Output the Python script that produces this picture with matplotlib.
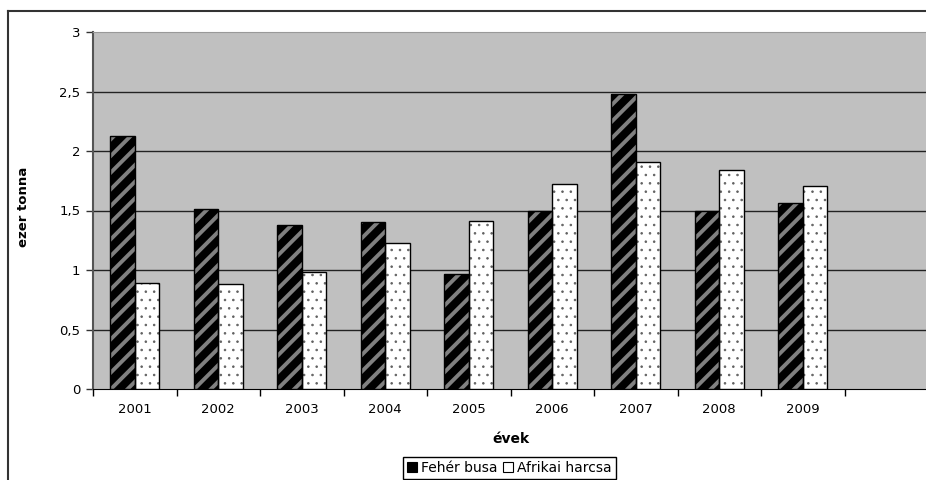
import matplotlib
matplotlib.use("Agg")
import matplotlib.pyplot as plt
from matplotlib.lines import Line2D
from matplotlib.patches import Patch
import numpy as np

# Yearly catch, thousand tonnes
years = ["2001", "2002", "2003", "2004", "2005", "2006", "2007", "2008", "2009"]
feher_busa = [2.13, 1.51, 1.375, 1.40, 0.97, 1.50, 2.48, 1.50, 1.565]
afrikai_harcsa = [0.89, 0.88, 0.98, 1.23, 1.41, 1.72, 1.91, 1.84, 1.71]
y_ticks = [0, 0.5, 1, 1.5, 2, 2.5, 3]
y_tick_labels = ["0", "0,5", "1", "1,5", "2", "2,5", "3"]

plt.rcParams['font.family'] = ['DejaVu Sans']

W, H = 926, 480
fig = plt.figure(figsize=(W / 100, H / 100), dpi=100)
ax = fig.add_axes([93 / W, (H - 389) / H, 835 / W, 357 / H])
ax.set_facecolor('#c0c0c0')

x = np.arange(len(years))
bw = 0.293

# striped dark bars and dotted white bars
b1 = ax.bar(x - bw / 2, feher_busa, bw, color='black', edgecolor='#808080',
            hatch='//', linewidth=0, zorder=3)
b2 = ax.bar(x + bw / 2, afrikai_harcsa, bw, color='white', edgecolor='#606060',
            hatch='..', linewidth=0, zorder=3)
for p in b1.patches:
    p.set_hatch_linewidth(2.8)
for p in b2.patches:
    p.set_hatch_linewidth(0.6)
ax.bar(x - bw / 2, feher_busa, bw, fill=False, edgecolor='black', linewidth=1, zorder=4)
ax.bar(x + bw / 2, afrikai_harcsa, bw, fill=False, edgecolor='black', linewidth=1, zorder=4)

for v in y_ticks[1:-1]:
    ax.axhline(v, color='#222222', linewidth=1.0, zorder=1)

ax.set_xlim(-0.5, 9.5)
ax.set_ylim(0, 3)
ax.set_yticks(y_ticks)
ax.set_yticklabels(y_tick_labels, fontsize=9.5)
ax.tick_params(axis='y', direction='out', length=5, width=1, pad=4, color='#333333')

# category ticks between groups, labels at the centres
ax.set_xticks(np.arange(-0.5, 10, 1))
ax.set_xticklabels([])
ax.set_xticks(x, minor=True)
ax.set_xticklabels(years, minor=True, fontsize=9.5)
ax.tick_params(axis='x', which='major', direction='out', length=5, width=1)
ax.tick_params(axis='x', which='minor', length=0, pad=10)

ax.spines['right'].set_visible(False)
ax.spines['top'].set_color('#999999')
ax.spines['left'].set_color('#555555')
ax.spines['left'].set_linewidth(1.5)
ax.spines['bottom'].set_color('black')

ax.set_ylabel("ezer tonna", fontsize=9.5, fontweight='bold',
              family=['Liberation Sans Narrow', 'DejaVu Sans'])
ax.yaxis.set_label_coords(-63 / 835, 0.51)
ax.set_xlabel("évek", fontsize=10, fontweight='bold')
ax.xaxis.set_label_coords(0.5, -(432 - 389) / 357)

handles = [Patch(facecolor='black', edgecolor='black', linewidth=0.8),
           Patch(facecolor='white', edgecolor='black', linewidth=0.8)]
fig.legend(handles, ["Fehér busa", "Afrikai harcsa"], loc='center',
           bbox_to_anchor=(509.5 / W, (H - 468) / H), ncol=2, fontsize=10,
           frameon=True, fancybox=False, edgecolor='black', framealpha=1,
           handlelength=0.7, handleheight=0.7, handletextpad=0.3,
           columnspacing=0.4, borderpad=0.3)

# outer chart frame
fig.add_artist(Line2D([7.5 / W, 7.5 / W], [0, 1 - 10.5 / H], color='#333333', linewidth=1.5))
fig.add_artist(Line2D([7.5 / W, 1], [1 - 10.5 / H, 1 - 10.5 / H], color='#333333', linewidth=1.5))

fig.savefig("out.png", dpi=100)
